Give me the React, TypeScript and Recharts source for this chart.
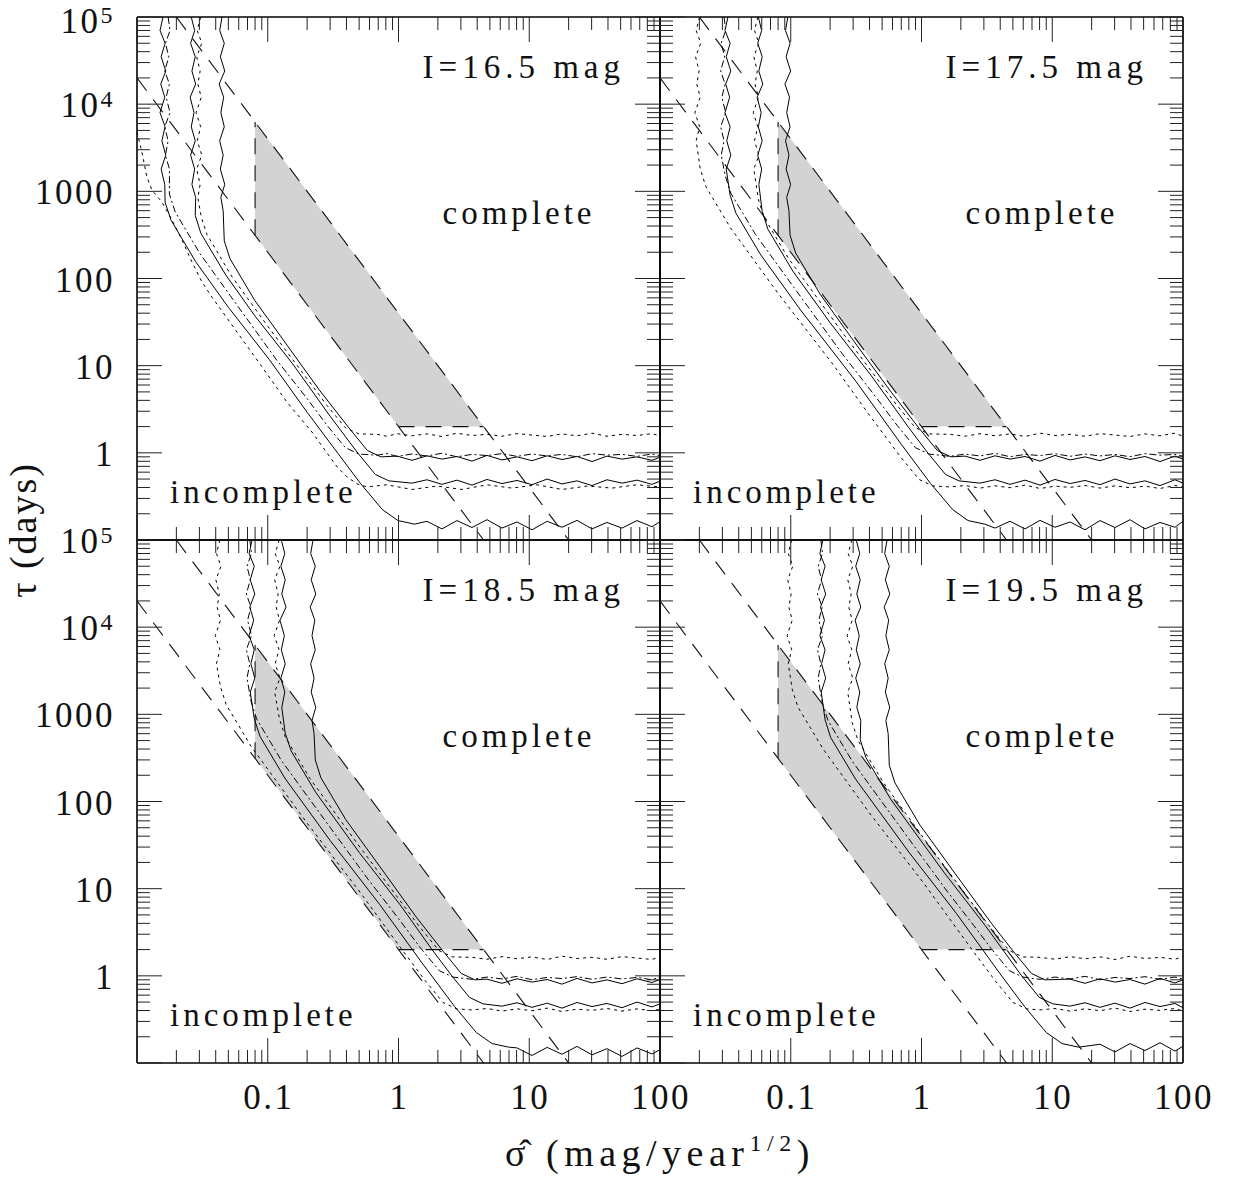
import React from 'react';
import { ComposedChart, Line, Area, XAxis, YAxis } from 'recharts';

type P = [number, number];

const W = 1233;
const H = 1179;
const PW = 523;
const PH = 523;
const FONT = '"Liberation Serif", "DejaVu Serif", serif';

// ---------- ticks ----------
const X_TICKS = [0.01, 0.02, 0.03, 0.04, 0.05, 0.06, 0.07, 0.08, 0.09, 0.1, 0.2, 0.3, 0.4, 0.5, 0.6, 0.7, 0.8, 0.9, 1, 2, 3, 4, 5, 6, 7, 8, 9, 10, 20, 30, 40, 50, 60, 70, 80, 90, 100];
const Y_TICKS = [0.1, 0.2, 0.3, 0.4, 0.5, 0.6, 0.7, 0.8, 0.9, 1, 2, 3, 4, 5, 6, 7, 8, 9, 10, 20, 30, 40, 50, 60, 70, 80, 90, 100, 200, 300, 400, 500, 600, 700, 800, 900, 1000, 2000, 3000, 4000, 5000, 6000, 7000, 8000, 9000, 10000, 20000, 30000, 40000, 50000, 60000, 70000, 80000, 90000, 100000];
const X_TICK_VALUES = [0.1, 1, 10, 100];
const X_TICK_TEXT = ['0.1', '1', '10', '100'];
const Y_TICK_VALUES = [100000, 10000, 1000, 100, 10, 1];
const Y_TICK_BASE = ['10', '10', '1000', '100', '10', '1'];
const Y_TICK_EXP = ['5', '4', '', '', '', ''];

// ---------- shaded region & dashed guide lines ----------
const bandSigma = [0.08, 1, 4.472];
const bandLow = [312.5, 2, 2];
const bandHigh = [6250, 40, 2];
const dashLower: P[] = [[0.01, 20000], [4.472, 0.1]];
const dashUpper: P[] = [[0.02, 100000], [20, 0.1]];
const dashFloor: P[] = [[1, 2], [4.472, 2]];
const dashWall: P[] = [[0.08, 312.5], [0.08, 6250]];

// ---------- contours, I = 16.5 ----------
const tl_D1: P[] = [[0.0100,4800],[0.0109,2830],[0.0119,1460],[0.0130,1035],[0.0155,755],[0.0185,470],[0.0221,277],[0.0263,155],[0.0314,91],[0.0375,61],[0.0582,24.3],[0.0904,9.7],[0.140,3.83],[0.218,1.73],[0.339,0.69],[0.404,0.53],[0.482,0.44],[0.574,0.406],[0.817,0.43],[1.27,0.38],[1.97,0.416],[3.06,0.38],[4.75,0.43],[7.38,0.394],[11.5,0.43],[17.8,0.38],[27.7,0.416],[43,0.394],[66.7,0.43],[100,0.406]];
const tl_S1: P[] = [[0.0158,100000],[0.0150,70000],[0.0164,50000],[0.0153,35000],[0.0166,24000],[0.0152,17000],[0.0163,12000],[0.0150,8000],[0.0164,5500],[0.0155,3800],[0.0166,2600],[0.0153,1800],[0.0163,1200],[0.0164,750],[0.0182,468],[0.0281,156],[0.05,46.7],[0.103,11.7],[0.2,2.92],[0.35,0.953],[0.511,0.447],[0.752,0.2235],[0.991,0.167],[1.33,0.152],[1.65,0.164],[2.15,0.134],[2.80,0.167],[3.65,0.139],[4.75,0.171],[6.19,0.137],[8.06,0.161],[10.5,0.131],[13.7,0.164],[17.8,0.140],[23.2,0.168],[30.2,0.134],[39.3,0.159],[51.2,0.137],[66.7,0.167],[86.8,0.142],[100,0.162]];
const tl_DD: P[] = [[0.0173,100000],[0.0179,70000],[0.0165,50000],[0.0175,35000],[0.0163,24000],[0.0177,17000],[0.0167,12000],[0.0179,8000],[0.0163,5500],[0.0173,3800],[0.0165,2600],[0.0177,1800],[0.0177,928],[0.0196,580],[0.0303,193],[0.06,46.5],[0.117,11.6],[0.2,4.19],[0.284,2.07],[0.392,1.147],[0.498,0.968],[0.685,0.94],[0.817,0.98],[0.974,0.91],[1.27,0.97],[1.65,0.92],[2.15,0.99],[2.80,0.90],[3.65,0.96],[4.75,0.93],[6.19,0.98],[8.06,0.91],[10.5,0.97],[13.7,0.92],[17.8,0.96],[23.2,0.90],[30.2,0.98],[39.3,0.94],[51.2,0.96],[66.7,0.91],[86.8,0.97],[100,0.93]];
const tl_S2: P[] = [[0.0260,100000],[0.0276,70000],[0.0257,50000],[0.0279,35000],[0.0263,24000],[0.0281,17000],[0.0255,12000],[0.0273,8000],[0.0260,5500],[0.0279,3800],[0.0257,2600],[0.0276,1800],[0.0263,1200],[0.0281,850],[0.0279,528],[0.0308,330],[0.0477,110],[0.08,37],[0.155,10.5],[0.3,2.63],[0.482,1.02],[0.665,0.565],[0.844,0.477],[1.27,0.449],[1.65,0.491],[2.15,0.435],[2.80,0.486],[3.65,0.426],[4.75,0.495],[6.19,0.444],[8.06,0.482],[10.5,0.431],[13.7,0.500],[17.8,0.440],[23.2,0.477],[30.2,0.421],[39.3,0.491],[51.2,0.449],[66.7,0.486],[86.8,0.435],[100,0.472]];
const tl_D2: P[] = [[0.0307,100000],[0.0289,70000],[0.0313,50000],[0.0286,35000],[0.0304,24000],[0.0292,17000],[0.0310,12000],[0.0283,8000],[0.0307,5500],[0.0289,3800],[0.0313,2600],[0.0286,1800],[0.0304,1200],[0.0292,850],[0.0310,510],[0.0343,319],[0.0530,106],[0.1,28.3],[0.18,8.73],[0.283,3.52],[0.391,1.95],[0.496,1.65],[0.685,1.63],[0.817,1.55],[0.974,1.66],[1.27,1.57],[1.65,1.65],[2.15,1.54],[2.80,1.68],[3.65,1.58],[4.75,1.63],[6.19,1.55],[8.06,1.66],[10.5,1.60],[13.7,1.54],[17.8,1.65],[23.2,1.57],[30.2,1.68],[39.3,1.55],[51.2,1.63],[66.7,1.58],[86.8,1.66],[100,1.57]];
const tl_S3: P[] = [[0.0447,100000],[0.0429,70000],[0.0465,50000],[0.0434,35000],[0.0469,24000],[0.0425,17000],[0.0460,12000],[0.0438,8000],[0.0465,5500],[0.0429,3800],[0.0456,2600],[0.0434,1800],[0.0469,1200],[0.0438,850],[0.0456,600],[0.0460,420],[0.0465,270],[0.0514,169],[0.0796,56],[0.15,15.0],[0.245,5.39],[0.419,1.92],[0.578,1.065],[0.733,0.899],[0.974,0.917],[1.27,0.821],[1.65,0.925],[2.15,0.847],[2.80,0.908],[3.65,0.803],[4.75,0.934],[6.19,0.829],[8.06,0.899],[10.5,0.812],[13.7,0.925],[17.8,0.838],[23.2,0.908],[30.2,0.794],[39.3,0.917],[51.2,0.847],[66.7,0.899],[86.8,0.821],[100,0.890]];

// ---------- contours, I = 17.5 ----------
const tr_D1: P[] = [[0.0201,100000],[0.0189,70000],[0.0205,50000],[0.0187,35000],[0.0199,24000],[0.0191,17000],[0.0203,12000],[0.0185,8000],[0.0201,5500],[0.0189,3800],[0.0203,1818],[0.0224,1136],[0.0347,379],[0.08,67.5],[0.206,10.8],[0.4,2.7],[0.694,0.893],[0.958,0.495],[1.22,0.418],[1.65,0.406],[2.15,0.422],[2.80,0.394],[3.65,0.418],[4.75,0.398],[6.19,0.426],[8.06,0.390],[10.5,0.414],[13.7,0.402],[17.8,0.422],[23.2,0.394],[30.2,0.418],[39.3,0.398],[51.2,0.414],[66.7,0.390],[86.8,0.422],[100,0.406]];
const tr_S1: P[] = [[0.0331,100000],[0.0314,70000],[0.0344,50000],[0.0321,35000],[0.0348,24000],[0.0318,17000],[0.0341,12000],[0.0314,8000],[0.0344,5500],[0.0324,3800],[0.0348,2600],[0.0321,1800],[0.0344,898],[0.0381,561],[0.0589,187],[0.12,42.7],[0.31,6.83],[0.7,1.255],[1.17,0.447],[1.73,0.2235],[2.27,0.167],[3.05,0.152],[3.65,0.137],[4.75,0.164],[6.19,0.134],[8.06,0.168],[10.5,0.140],[13.7,0.161],[17.8,0.131],[23.2,0.167],[30.2,0.139],[39.3,0.171],[51.2,0.134],[66.7,0.159],[86.8,0.140],[100,0.164]];
const tr_DD: P[] = [[0.0309,100000],[0.0318,70000],[0.0294,50000],[0.0312,35000],[0.0291,24000],[0.0315,17000],[0.0297,12000],[0.0318,8000],[0.0291,5500],[0.0309,3800],[0.0294,2600],[0.0315,1525],[0.0348,953],[0.0539,318],[0.12,60.8],[0.245,14],[0.45,4.32],[0.65,2.07],[0.897,1.147],[1.14,0.968],[1.65,0.912],[2.15,0.968],[2.80,0.921],[3.65,0.987],[4.75,0.902],[6.19,0.959],[8.06,0.931],[10.5,0.978],[13.7,0.912],[17.8,0.968],[23.2,0.921],[30.2,0.959],[39.3,0.902],[51.2,0.978],[66.7,0.94],[86.8,0.959],[100,0.912]];
const tr_S2: P[] = [[0.0565,100000],[0.0599,70000],[0.0559,50000],[0.0605,35000],[0.0570,24000],[0.0611,17000],[0.0553,12000],[0.0594,8000],[0.0565,5500],[0.0605,3800],[0.0559,2600],[0.0599,1800],[0.0570,1200],[0.0605,587],[0.0669,367],[0.1036,122],[0.2,31.1],[0.41,7.78],[0.8,1.94],[1.105,1.02],[1.525,0.565],[1.935,0.477],[2.80,0.449],[3.65,0.491],[4.75,0.435],[6.19,0.486],[8.06,0.426],[10.5,0.495],[13.7,0.444],[17.8,0.482],[23.2,0.431],[30.2,0.500],[39.3,0.440],[51.2,0.477],[66.7,0.421],[86.8,0.491],[100,0.449]];
const tr_D2: P[] = [[0.0560,100000],[0.0528,70000],[0.0571,50000],[0.0522,35000],[0.0555,24000],[0.0533,17000],[0.0566,12000],[0.0517,8000],[0.0560,5500],[0.0528,3800],[0.0571,2600],[0.0522,1800],[0.0566,800],[0.0626,500],[0.0968,167],[0.25,23.7],[0.45,7.31],[0.648,3.52],[0.895,1.95],[1.135,1.65],[1.65,1.63],[2.15,1.55],[2.80,1.66],[3.65,1.57],[4.75,1.65],[6.19,1.54],[8.06,1.68],[10.5,1.58],[13.7,1.63],[17.8,1.55],[23.2,1.66],[30.2,1.60],[39.3,1.54],[51.2,1.65],[66.7,1.57],[86.8,1.68],[100,1.55]];
const tr_S3: P[] = [[0.095,100000],[0.0912,70000],[0.0988,50000],[0.0922,35000],[0.0998,24000],[0.0903,17000],[0.0979,12000],[0.0931,8000],[0.0988,5500],[0.0912,3800],[0.0969,2600],[0.0922,1800],[0.0998,1200],[0.0931,850],[0.0969,600],[0.0988,314],[0.109,196],[0.169,65],[0.3,19.6],[0.59,4.91],[0.957,1.92],[1.32,1.065],[1.68,0.899],[2.15,0.917],[2.80,0.821],[3.65,0.925],[4.75,0.847],[6.19,0.908],[8.06,0.803],[10.5,0.934],[13.7,0.829],[17.8,0.899],[23.2,0.812],[30.2,0.925],[39.3,0.838],[51.2,0.908],[66.7,0.794],[86.8,0.917],[100,0.847]];

// ---------- contours, I = 18.5 ----------
const bl_D1: P[] = [[0.0431,100000],[0.0405,70000],[0.0439,50000],[0.0401,35000],[0.0426,24000],[0.0410,17000],[0.0435,12000],[0.0397,8000],[0.0431,5500],[0.0405,3800],[0.0435,2070],[0.0481,1294],[0.0744,431],[0.2,56.5],[0.51,9.04],[1.0,2.26],[1.59,0.893],[2.19,0.495],[2.78,0.418],[3.65,0.406],[4.75,0.422],[6.19,0.394],[8.06,0.418],[10.5,0.398],[13.7,0.426],[17.8,0.390],[23.2,0.414],[30.2,0.402],[39.3,0.422],[51.2,0.394],[66.7,0.418],[86.8,0.398],[100,0.414]];
const bl_S1: P[] = [[0.0758,100000],[0.0720,70000],[0.0788,50000],[0.0735,35000],[0.0796,24000],[0.0728,17000],[0.0781,12000],[0.0720,8000],[0.0788,5500],[0.0743,3800],[0.0796,2600],[0.0735,1800],[0.0788,894],[0.0872,559],[0.135,186],[0.3,35.7],[0.72,6.55],[1.5,1.43],[2.68,0.447],[3.94,0.2235],[5.2,0.167],[6.96,0.152],[8.06,0.149],[10.5,0.122],[13.7,0.151],[17.8,0.126],[23.2,0.155],[30.2,0.124],[39.3,0.146],[51.2,0.119],[66.7,0.149],[86.8,0.127],[100,0.142]];
const bl_DD: P[] = [[0.0729,100000],[0.0751,70000],[0.0694,50000],[0.0736,35000],[0.0686,24000],[0.0744,17000],[0.0701,12000],[0.0751,8000],[0.0686,5500],[0.0729,3800],[0.0694,2600],[0.0744,1420],[0.0822,888],[0.127,296],[0.3,50.4],[0.59,12.6],[1.0,4.54],[1.48,2.07],[2.05,1.147],[2.6,0.968],[3.65,0.912],[4.75,0.968],[6.19,0.921],[8.06,0.987],[10.5,0.902],[13.7,0.959],[17.8,0.931],[23.2,0.978],[30.2,0.912],[39.3,0.968],[51.2,0.921],[66.7,0.959],[86.8,0.902],[100,0.978]];
const bl_S2: P[] = [[0.127,100000],[0.135,70000],[0.126,50000],[0.136,35000],[0.128,24000],[0.138,17000],[0.124,12000],[0.134,8000],[0.127,5500],[0.136,3800],[0.126,2600],[0.135,1800],[0.128,1200],[0.136,608],[0.151,380],[0.233,127],[0.5,26.1],[1.03,6.52],[1.8,2.01],[2.53,1.02],[3.49,0.565],[4.43,0.477],[6.19,0.449],[8.06,0.491],[10.5,0.435],[13.7,0.486],[17.8,0.426],[23.2,0.495],[30.2,0.444],[39.3,0.482],[51.2,0.431],[66.7,0.500],[86.8,0.440],[100,0.477]];
const bl_D2: P[] = [[0.122,100000],[0.114,70000],[0.124,50000],[0.113,35000],[0.120,24000],[0.116,17000],[0.123,12000],[0.112,8000],[0.122,5500],[0.114,3800],[0.124,2600],[0.113,1800],[0.123,883],[0.136,552],[0.21,184],[0.5,30.8],[1.0,7.69],[1.476,3.52],[2.04,1.95],[2.58,1.65],[3.65,1.63],[4.75,1.55],[6.19,1.66],[8.06,1.57],[10.5,1.65],[13.7,1.54],[17.8,1.68],[23.2,1.58],[30.2,1.63],[39.3,1.55],[51.2,1.66],[66.7,1.60],[86.8,1.54],[100,1.65]];
const bl_S3: P[] = [[0.222,100000],[0.213,70000],[0.231,50000],[0.215,35000],[0.233,24000],[0.211,17000],[0.229,12000],[0.218,8000],[0.231,5500],[0.213,3800],[0.226,2600],[0.215,1800],[0.233,1200],[0.218,850],[0.226,600],[0.231,300],[0.255,187],[0.395,62],[0.8,14.4],[1.37,4.7],[2.19,1.92],[3.02,1.065],[3.84,0.899],[4.75,0.917],[6.19,0.821],[8.06,0.925],[10.5,0.847],[13.7,0.908],[17.8,0.803],[23.2,0.934],[30.2,0.829],[39.3,0.899],[51.2,0.812],[66.7,0.925],[86.8,0.838],[100,0.908]];

// ---------- contours, I = 19.5 ----------
const br_D1: P[] = [[0.1017,100000],[0.0957,70000],[0.1036,50000],[0.0948,35000],[0.1007,24000],[0.0967,17000],[0.1026,12000],[0.0938,8000],[0.1017,5500],[0.0957,3800],[0.1026,1940],[0.1135,1211],[0.176,404],[0.4,73.8],[1.03,11.8],[2.5,1.89],[3.63,0.893],[5.01,0.495],[6.36,0.418],[8.06,0.406],[10.5,0.422],[13.7,0.394],[17.8,0.418],[23.2,0.398],[30.2,0.426],[39.3,0.390],[51.2,0.414],[66.7,0.402],[86.8,0.422],[100,0.394]];
const br_S1: P[] = [[0.176,100000],[0.167,70000],[0.183,50000],[0.171,35000],[0.185,24000],[0.169,17000],[0.181,12000],[0.167,8000],[0.183,5500],[0.172,3800],[0.185,2600],[0.171,1800],[0.183,867],[0.202,542],[0.313,181],[0.8,26.3],[1.85,5.19],[4,1.05],[6.12,0.447],[9.01,0.2235],[11.9,0.167],[15.9,0.152],[23.2,0.164],[30.2,0.134],[39.3,0.167],[51.2,0.139],[66.7,0.171],[86.8,0.137],[100,0.156]];
const br_DD: P[] = [[0.170,100000],[0.175,70000],[0.162,50000],[0.172,35000],[0.160,24000],[0.174,17000],[0.164,12000],[0.175,8000],[0.160,5500],[0.170,3800],[0.162,2600],[0.174,1370],[0.192,857],[0.297,286],[0.8,37.3],[1.57,9.34],[2.5,3.82],[3.4,2.07],[4.69,1.147],[5.95,0.968],[8.06,0.912],[10.5,0.968],[13.7,0.921],[17.8,0.987],[23.2,0.902],[30.2,0.959],[39.3,0.931],[51.2,0.978],[66.7,0.912],[86.8,0.968],[100,0.921]];
const br_S2: P[] = [[0.317,100000],[0.337,70000],[0.314,50000],[0.340,35000],[0.320,24000],[0.343,17000],[0.311,12000],[0.334,8000],[0.317,5500],[0.340,3800],[0.314,2600],[0.337,1800],[0.320,1200],[0.343,850],[0.340,509],[0.376,318],[0.582,106],[1.5,15.1],[3.07,3.78],[5.78,1.02],[7.97,0.565],[10.1,0.477],[13.7,0.449],[17.8,0.491],[23.2,0.435],[30.2,0.486],[39.3,0.426],[51.2,0.495],[66.7,0.444],[86.8,0.482],[100,0.431]];
const br_D2: P[] = [[0.293,100000],[0.275,70000],[0.298,50000],[0.273,35000],[0.290,24000],[0.278,17000],[0.295,12000],[0.270,8000],[0.293,5500],[0.275,3800],[0.298,2600],[0.273,1800],[0.295,805],[0.327,503],[0.506,168],[1.2,28.2],[2.4,7.05],[3.4,3.52],[4.69,1.95],[5.95,1.65],[8.06,1.63],[10.5,1.55],[13.7,1.66],[17.8,1.57],[23.2,1.65],[30.2,1.54],[39.3,1.68],[51.2,1.58],[66.7,1.63],[86.8,1.55],[100,1.66]];
const br_S3: P[] = [[0.545,100000],[0.523,70000],[0.567,50000],[0.529,35000],[0.572,24000],[0.518,17000],[0.561,12000],[0.534,8000],[0.567,5500],[0.523,3800],[0.556,2600],[0.529,1800],[0.572,1200],[0.534,850],[0.556,600],[0.561,420],[0.567,261],[0.627,163],[0.97,54],[2,12.1],[3.45,3.95],[5.02,1.92],[6.93,1.065],[8.79,0.899],[13.7,0.917],[17.8,0.821],[23.2,0.925],[30.2,0.847],[39.3,0.908],[51.2,0.803],[66.7,0.934],[86.8,0.829],[100,0.899]];

const LINE_STYLES = ['3 4', undefined, '7 3 2 3', undefined, '3 4', undefined];

const PANELS = [
  { id: 'tl', left: 137, top: 17, mag: 'I=16.5 mag', lines: [tl_D1, tl_S1, tl_DD, tl_S2, tl_D2, tl_S3], xLabels: false, yLabels: true },
  { id: 'tr', left: 660, top: 17, mag: 'I=17.5 mag', lines: [tr_D1, tr_S1, tr_DD, tr_S2, tr_D2, tr_S3], xLabels: false, yLabels: false },
  { id: 'bl', left: 137, top: 540, mag: 'I=18.5 mag', lines: [bl_D1, bl_S1, bl_DD, bl_S2, bl_D2, bl_S3], xLabels: true, yLabels: true },
  { id: 'br', left: 660, top: 540, mag: 'I=19.5 mag', lines: [br_D1, br_S1, br_DD, br_S2, br_D2, br_S3], xLabels: true, yLabels: false },
];

const toPts = (arr: P[]) => arr.map(([s, t]) => ({ s, t }));
const bandData = bandSigma.map((s, i) => ({ s, band: [bandLow[i], bandHigh[i]] }));

const isMajor = (v: number) => {
  const l = Math.log10(v);
  return Math.abs(l - Math.round(l)) < 1e-6;
};

const TICK_STROKE = '#222';
const MAJOR = 25;
const MINOR = 13;

function HTick(props: any) {
  const { x, y, payload, side, showLabel } = props;
  const v = payload.value;
  const len = isMajor(v) ? MAJOR : MINOR;
  const dir = side === 'bottom' ? -1 : 1;
  const idx = X_TICK_VALUES.findIndex((t) => Math.abs(t - v) < 1e-9);
  return (
    <g>
      <line x1={x} y1={y} x2={x} y2={y + dir * len} stroke={TICK_STROKE} strokeWidth={1} />
      {showLabel && idx >= 0 && (
        <text x={x + 1} y={y + 46} textAnchor="middle" fontFamily={FONT} fontSize={35} letterSpacing={2.5} fill="#111">
          {X_TICK_TEXT[idx]}
        </text>
      )}
    </g>
  );
}

function VTick(props: any) {
  const { x, y, payload, side, showLabel, panelTop } = props;
  const v = payload.value;
  const len = isMajor(v) ? MAJOR : MINOR;
  const dir = side === 'left' ? 1 : -1;
  const idx = Y_TICK_VALUES.findIndex((t) => Math.abs(t - v) < 1e-9);
  const base = idx === 0 && panelTop ? 16 : 13;
  return (
    <g>
      <line x1={x} y1={y} x2={x + dir * len} y2={y} stroke={TICK_STROKE} strokeWidth={1} />
      {showLabel && idx >= 0 && (
        <text x={x - 22} y={y + base} textAnchor="end" fontFamily={FONT} fontSize={35} letterSpacing={2.5} fill="#111">
          {Y_TICK_BASE[idx]}
          {Y_TICK_EXP[idx] && (
            <tspan dy={-10} fontSize={24}>
              {Y_TICK_EXP[idx]}
            </tspan>
          )}
        </text>
      )}
    </g>
  );
}

function Panel({ p }: { p: (typeof PANELS)[number] }) {
  const margin = { left: p.left - 1, top: p.top - 1, right: W - p.left - PW - 1, bottom: H - p.top - PH - 1 };
  const axisLine = { stroke: '#000', strokeWidth: 1.6 };
  const isTop = p.top < 100;
  return (
    <div style={{ position: 'absolute', left: 0, top: 0 }}>
      <ComposedChart width={W} height={H} data={bandData} margin={margin}>
        <XAxis
          xAxisId="b"
          orientation="bottom"
          dataKey="s"
          type="number"
          scale="log"
          domain={[0.01, 100]}
          allowDataOverflow
          ticks={X_TICKS}
          interval={0}
          height={1}
          tickSize={0}
          tickMargin={0}
          tickLine={false}
          axisLine={axisLine}
          tick={(tp: any) => <HTick {...tp} side="bottom" showLabel={p.xLabels} />}
        />
        <XAxis
          xAxisId="t"
          orientation="top"
          dataKey="s"
          type="number"
          scale="log"
          domain={[0.01, 100]}
          allowDataOverflow
          ticks={X_TICKS}
          interval={0}
          height={1}
          tickSize={0}
          tickMargin={0}
          tickLine={false}
          axisLine={axisLine}
          tick={(tp: any) => <HTick {...tp} side="top" showLabel={false} />}
        />
        <YAxis
          yAxisId="l"
          orientation="left"
          type="number"
          scale="log"
          domain={[0.1, 100000]}
          allowDataOverflow
          ticks={Y_TICKS}
          interval={0}
          width={1}
          tickSize={0}
          tickMargin={0}
          tickLine={false}
          axisLine={axisLine}
          tick={(tp: any) => <VTick {...tp} side="left" showLabel={p.yLabels} panelTop={isTop} />}
        />
        <YAxis
          yAxisId="r"
          orientation="right"
          type="number"
          scale="log"
          domain={[0.1, 100000]}
          allowDataOverflow
          ticks={Y_TICKS}
          interval={0}
          width={1}
          tickSize={0}
          tickMargin={0}
          tickLine={false}
          axisLine={axisLine}
          tick={(tp: any) => <VTick {...tp} side="right" showLabel={false} />}
        />
        <Area
          xAxisId="b"
          yAxisId="l"
          dataKey="band"
          type="linear"
          stroke="none"
          fill="#d3d3d3"
          fillOpacity={1}
          isAnimationActive={false}
          dot={false}
          activeDot={false}
        />
        {[dashLower, dashUpper, dashFloor, dashWall].map((d, i) => (
          <Line
            key={'dash' + i}
            xAxisId="b"
            yAxisId="l"
            data={toPts(d)}
            dataKey="t"
            type="linear"
            stroke="#111"
            strokeWidth={1.1}
            strokeDasharray="16 11"
            dot={false}
            activeDot={false}
            isAnimationActive={false}
          />
        ))}
        {p.lines.map((d, i) => (
          <Line
            key={'c' + i}
            xAxisId="b"
            yAxisId="l"
            data={toPts(d)}
            dataKey="t"
            type="linear"
            stroke="#000"
            strokeWidth={1}
            strokeDasharray={LINE_STYLES[i]}
            dot={false}
            activeDot={false}
            isAnimationActive={false}
          />
        ))}
      </ComposedChart>
    </div>
  );
}

export default function App() {
  return (
    <div style={{ position: 'absolute', left: 0, top: 0, width: W, height: H, background: '#fff', overflow: 'hidden' }}>
      {PANELS.map((p) => (
        <Panel key={p.id} p={p} />
      ))}
      <svg width={W} height={H} style={{ position: 'absolute', left: 0, top: 0, pointerEvents: 'none' }}>
        {PANELS.map((p) => (
          <g key={p.id} fontFamily={FONT} fill="#111">
            <text x={p.left + 488} y={p.top + 61} textAnchor="end" fontSize={33} letterSpacing={5}>
              {p.mag}
            </text>
            <text x={p.left + 382} y={p.top + 207} textAnchor="middle" fontSize={33} letterSpacing={4}>
              complete
            </text>
            <text x={p.left + 33} y={p.top + 486} fontSize={33} letterSpacing={4}>
              incomplete
            </text>
          </g>
        ))}
        <text
          transform="translate(36,530) rotate(-90)"
          textAnchor="middle"
          fontFamily={FONT}
          fontSize={38}
          letterSpacing={2}
          fill="#111"
        >
          τ (days)
        </text>
        <text x={505} y={1166} fontFamily={FONT} fill="#111" fontSize={38} letterSpacing={5.5}>
          {'\u03C3\u0302 (mag/year'}
          <tspan dy={-15} fontSize={24}>
            1/2
          </tspan>
          <tspan dy={15}>)</tspan>
        </text>
      </svg>
    </div>
  );
}
